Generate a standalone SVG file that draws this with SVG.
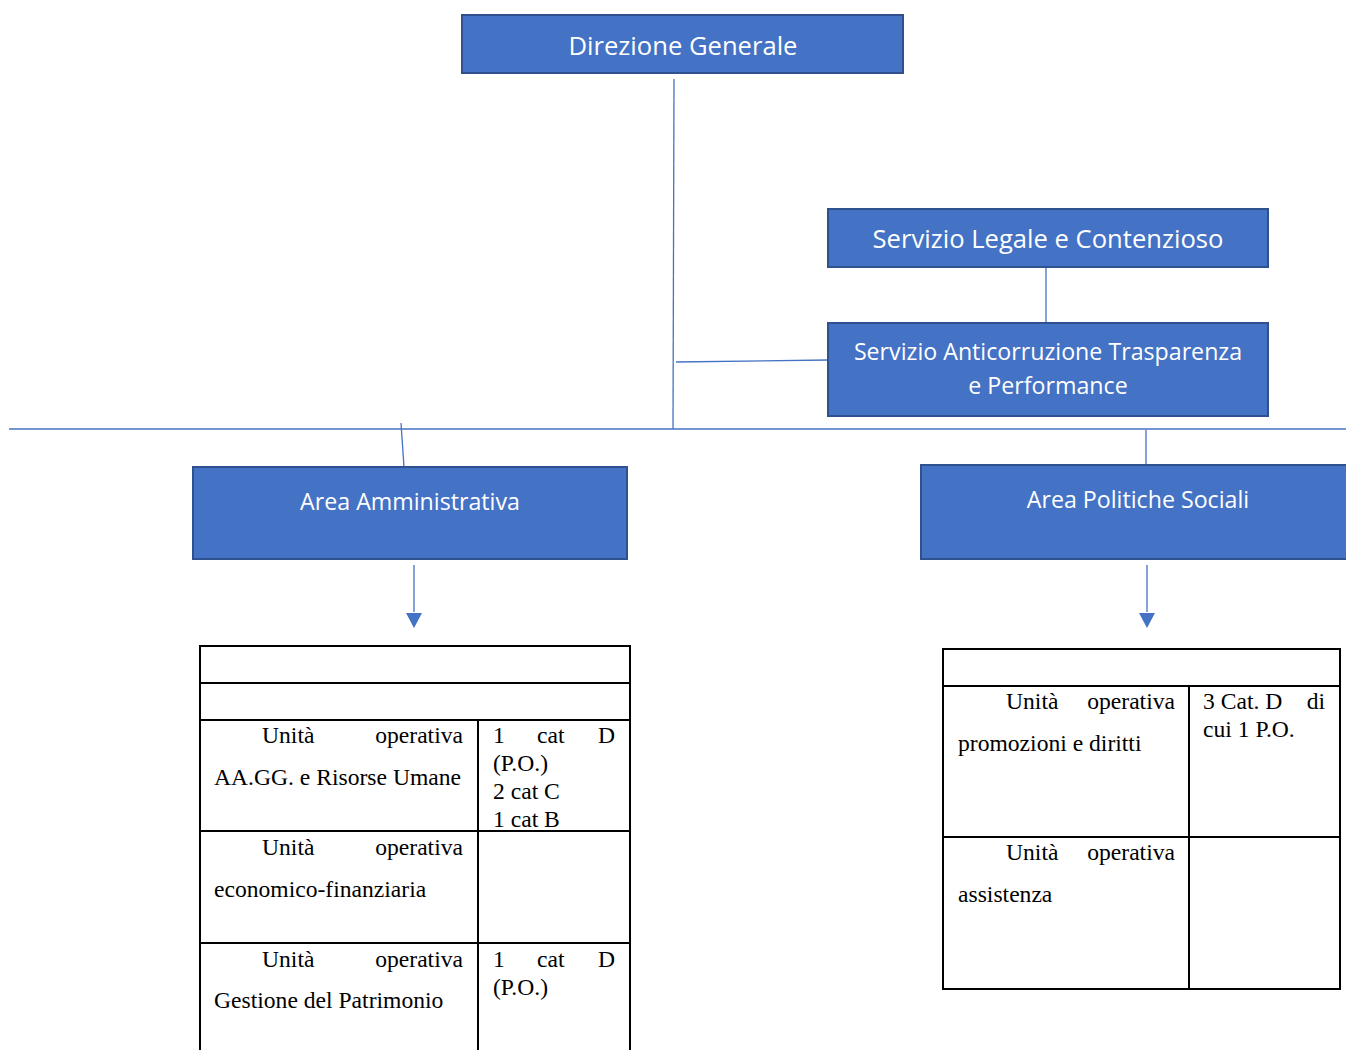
<svg xmlns="http://www.w3.org/2000/svg" width="1346" height="1050" viewBox="0 0 1346 1050">
<defs>
<style>
.box{fill:#4472C4;stroke:#2F528F;stroke-width:2}
.bt{fill:#FFFFFF;font-family:"Open Sans","Noto Sans","DejaVu Sans",sans-serif;text-anchor:middle}
.ln{stroke:#4472C4;stroke-width:1.3;fill:none}
.tb{fill:none;stroke:#000;stroke-width:2}
.tt{font-family:"Liberation Serif","Times New Roman",serif;font-size:23.6px;fill:#000}
.r{text-anchor:end}
</style>
</defs>
<rect width="1346" height="1050" fill="#FFFFFF"/>
<g id="connectors">
<line class="ln" x1="674" y1="79" x2="673" y2="429"/>
<line class="ln" x1="676" y1="362" x2="828" y2="360"/>
<line class="ln" x1="1046" y1="267" x2="1046" y2="323"/>
<line class="ln" x1="9" y1="429" x2="1346" y2="429"/>
<line class="ln" x1="401" y1="423" x2="404" y2="467"/>
<line class="ln" x1="1146" y1="430" x2="1146" y2="465"/>
<path d="M414,565 L414,612" class="ln"/>
<path d="M406,613 L422,613 L414,628 Z" fill="#4472C4"/>
<path d="M1147,565 L1147,612" class="ln"/>
<path d="M1139,613 L1155,613 L1147,628 Z" fill="#4472C4"/>
</g>
<g id="direzione-generale">
<rect class="box" x="462" y="15" width="441" height="58"/>
<text class="bt" x="683" y="55" font-size="25.6">Direzione Generale</text>
</g>
<g id="servizio-legale">
<rect class="box" x="828" y="209" width="440" height="58"/>
<text class="bt" x="1048" y="248" font-size="25.6">Servizio Legale e Contenzioso</text>
</g>
<g id="servizio-anticorruzione">
<rect class="box" x="828" y="323" width="440" height="93"/>
<text class="bt" x="1048" y="360" font-size="23.2">Servizio Anticorruzione Trasparenza</text>
<text class="bt" x="1048" y="394" font-size="23.2">e Performance</text>
</g>
<g id="area-amministrativa">
<rect class="box" x="193" y="467" width="434" height="92"/>
<text class="bt" x="410" y="510" font-size="23.2">Area Amministrativa</text>
</g>
<g id="area-politiche-sociali">
<rect class="box" x="921" y="465" width="430" height="94"/>
<text class="bt" x="1138" y="508" font-size="23.2">Area Politiche Sociali</text>
</g>
<g id="tabella-amministrativa">
<path class="tb" d="M200,1050 L200,646 L630,646 L630,1050 M200,683 L630,683 M200,720 L630,720 M200,831 L630,831 M200,943 L630,943 M478,720 L478,1050"/>
<text class="tt" x="262" y="743">Unità</text>
<text class="tt r" x="463" y="743">operativa</text>
<text class="tt" x="214" y="785">AA.GG. e Risorse Umane</text>
<text class="tt" x="493" y="743">1</text>
<text class="tt" x="537" y="743">cat</text>
<text class="tt r" x="615" y="743">D</text>
<text class="tt" x="493" y="771">(P.O.)</text>
<text class="tt" x="493" y="799">2 cat C</text>
<text class="tt" x="493" y="827">1 cat B</text>
<text class="tt" x="262" y="855">Unità</text>
<text class="tt r" x="463" y="855">operativa</text>
<text class="tt" x="214" y="897">economico-finanziaria</text>
<text class="tt" x="262" y="967">Unità</text>
<text class="tt r" x="463" y="967">operativa</text>
<text class="tt" x="214" y="1008">Gestione del Patrimonio</text>
<text class="tt" x="493" y="967">1</text>
<text class="tt" x="537" y="967">cat</text>
<text class="tt r" x="615" y="967">D</text>
<text class="tt" x="493" y="995">(P.O.)</text>
</g>
<g id="tabella-politiche-sociali">
<path class="tb" d="M943,649 L1340,649 L1340,989 L943,989 Z M943,686 L1340,686 M943,837 L1340,837 M1189,686 L1189,989"/>
<text class="tt" x="1006" y="709">Unità</text>
<text class="tt r" x="1175" y="709">operativa</text>
<text class="tt" x="958" y="751">promozioni e diritti</text>
<text class="tt" x="1203" y="709">3 Cat. D</text>
<text class="tt r" x="1325" y="709">di</text>
<text class="tt" x="1203" y="737">cui 1 P.O.</text>
<text class="tt" x="1006" y="860">Unità</text>
<text class="tt r" x="1175" y="860">operativa</text>
<text class="tt" x="958" y="902">assistenza</text>
</g>
</svg>
